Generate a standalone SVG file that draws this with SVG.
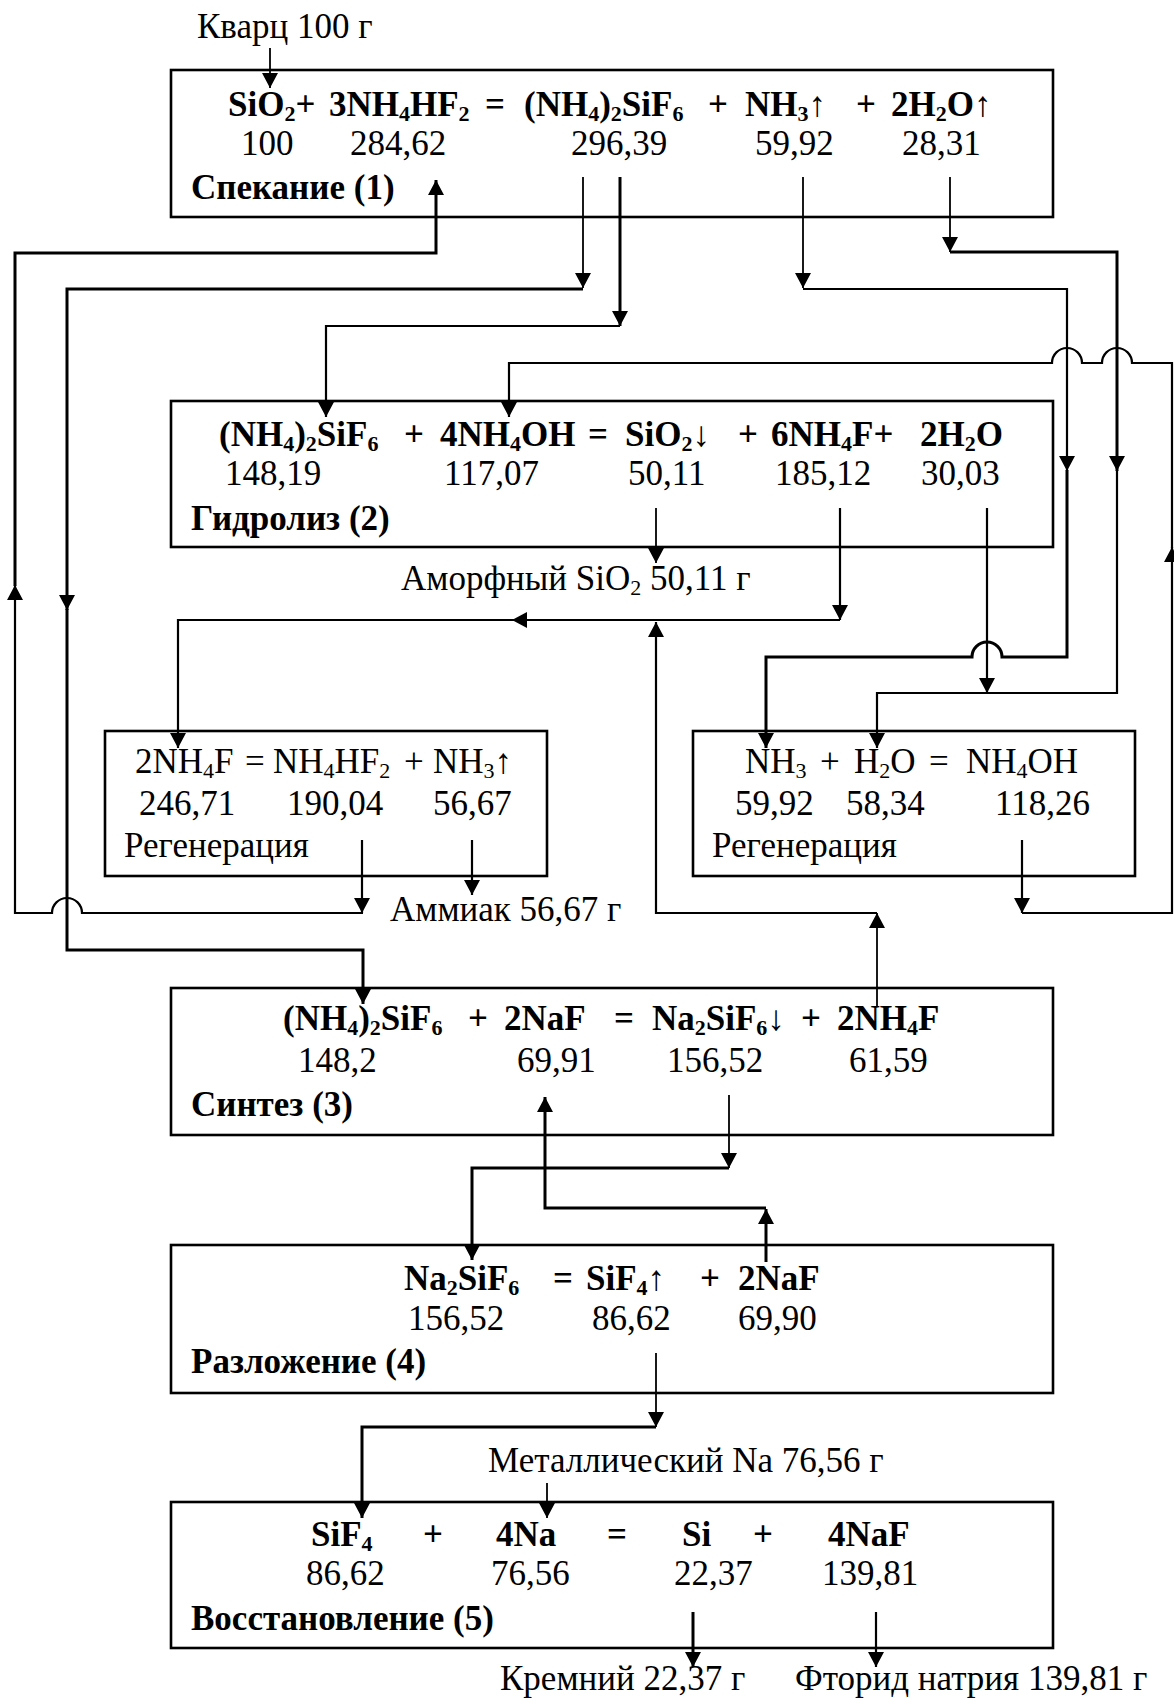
<svg xmlns="http://www.w3.org/2000/svg" width="1174" height="1698" viewBox="0 0 1174 1698">
<style>
.box{fill:none;stroke:#000;stroke-width:2.6}
.c{fill:none;stroke:#000;stroke-width:2.2}
.k{fill:none;stroke:#000;stroke-width:3}
.t{fill:none;stroke:#000;stroke-width:1.8}
text{font-family:"Liberation Serif","Times New Roman",serif;font-size:35px;fill:#000}
.b{font-weight:bold}
.s{font-size:22px}
.n{font-weight:normal}
</style>
<defs>
<marker id="a" markerUnits="userSpaceOnUse" markerWidth="16" markerHeight="16" refX="15" refY="8" orient="auto" viewBox="0 0 16 16"><path d="M0,0 L15,8 L0,16 z" fill="#000"/></marker>
</defs>
<rect width="1174" height="1698" fill="#fff"/>

<g id="connectors">
<path class="t" d="M270,48 V88" marker-end="url(#a)"/>
<path class="c" d="M362,840 V913" marker-end="url(#a)"/>
<path class="c" d="M363,913 H82 A15,15 0 0 0 52,913 H15 V585" marker-end="url(#a)"/>
<path class="k" d="M15,586 V253 H436 V180" marker-end="url(#a)"/>
<path class="c" d="M472,840 V895" marker-end="url(#a)"/>
<path class="t" d="M583,177 V288" marker-end="url(#a)"/>
<path class="k" d="M583,289 H67 V610" marker-end="url(#a)"/>
<path class="k" d="M67,609 V950 H363 V1004" marker-end="url(#a)"/>
<path class="k" d="M620,177 V326" marker-end="url(#a)"/>
<path class="c" d="M620,326 H326 V417" marker-end="url(#a)"/>
<path class="t" d="M803,177 V288" marker-end="url(#a)"/>
<path class="c" d="M803,289 H1067 V471" marker-end="url(#a)"/>
<path class="k" d="M1067,470 V657 H1002 A15,15 0 0 0 972,657 H766 V748" marker-end="url(#a)"/>
<path class="t" d="M950,177 V252" marker-end="url(#a)"/>
<path class="k" d="M950,252 H1117 V471" marker-end="url(#a)"/>
<path class="c" d="M1117,470 V693 H877 V748" marker-end="url(#a)"/>
<path class="c" d="M987,508 V693" marker-end="url(#a)"/>
<path class="c" d="M1022,840 V913" marker-end="url(#a)"/>
<path class="c" d="M1022,913 H1172 V547" marker-end="url(#a)"/>
<path class="c" d="M1172,548 V363 H1132 A15,15 0 0 0 1102,363 H1082 A15,15 0 0 0 1052,363 H509 V417" marker-end="url(#a)"/>
<path class="t" d="M656,508 V563" marker-end="url(#a)"/>
<path class="c" d="M840,508 V620" marker-end="url(#a)"/>
<path class="c" d="M840,620 H512" marker-end="url(#a)"/>
<path class="c" d="M514,620 H178 V748" marker-end="url(#a)"/>
<path class="t" d="M877,1007 V913" marker-end="url(#a)"/>
<path class="c" d="M877,913 H656 V622" marker-end="url(#a)"/>
<path class="t" d="M729,1095 V1168" marker-end="url(#a)"/>
<path class="k" d="M729,1168 H472 V1260" marker-end="url(#a)"/>
<path class="k" d="M766,1262 V1209" marker-end="url(#a)"/>
<path class="k" d="M766,1208 H545 V1097" marker-end="url(#a)"/>
<path class="t" d="M656,1353 V1427" marker-end="url(#a)"/>
<path class="k" d="M656,1427 H362 V1518" marker-end="url(#a)"/>
<path class="t" d="M547,1483 V1518" marker-end="url(#a)"/>
<path class="k" d="M693,1612 V1667" marker-end="url(#a)"/>
<path class="c" d="M876,1612 V1667" marker-end="url(#a)"/>
</g>

<g id="labels">
<text x="197" y="38">Кварц 100 г</text>
<text x="401" y="590">Аморфный SiO<tspan class="s" dy="5">2</tspan><tspan dy="-5"> 50,11 г</tspan></text>
<text x="390" y="921">Аммиак 56,67 г</text>
<text x="488" y="1472">Металлический Na 76,56 г</text>
<text x="500" y="1690">Кремний 22,37 г</text>
<text x="795" y="1690">Фторид натрия 139,81 г</text>
</g>

<g id="sintering">
<rect class="box" x="171" y="70" width="882" height="147"/>
<text class="b" x="228" y="116">SiO<tspan class="s" dy="5">2</tspan><tspan dy="-5">+</tspan></text>
<text class="b" x="329" y="116">3NH<tspan class="s" dy="5">4</tspan><tspan dy="-5">HF</tspan><tspan class="s" dy="5">2</tspan></text>
<text class="b" x="485" y="116">=</text>
<text class="b" x="524" y="116">(NH<tspan class="s" dy="5">4</tspan><tspan dy="-5">)</tspan><tspan class="s" dy="5">2</tspan><tspan dy="-5">SiF</tspan><tspan class="s" dy="5">6</tspan></text>
<text class="b" x="708" y="116">+</text>
<text class="b" x="745" y="116">NH<tspan class="s" dy="5">3</tspan><tspan class="n" dy="-5">↑</tspan></text>
<text class="b" x="856" y="116">+</text>
<text class="b" x="891" y="116">2H<tspan class="s" dy="5">2</tspan><tspan dy="-5">O</tspan><tspan class="n">↑</tspan></text>
<text x="241" y="155">100</text>
<text x="350" y="155">284,62</text>
<text x="571" y="155">296,39</text>
<text x="755" y="155">59,92</text>
<text x="902" y="155">28,31</text>
<text class="b" x="191" y="199">Спекание (1)</text>
</g>

<g id="hydrolysis">
<rect class="box" x="171" y="401" width="882" height="146"/>
<text class="b" x="219" y="446">(NH<tspan class="s" dy="5">4</tspan><tspan dy="-5">)</tspan><tspan class="s" dy="5">2</tspan><tspan dy="-5">SiF</tspan><tspan class="s" dy="5">6</tspan></text>
<text class="b" x="404" y="446">+</text>
<text class="b" x="440" y="446">4NH<tspan class="s" dy="5">4</tspan><tspan dy="-5">OH</tspan></text>
<text class="b" x="588" y="446">=</text>
<text class="b" x="625" y="446">SiO<tspan class="s" dy="5">2</tspan><tspan class="n" dy="-5">↓</tspan></text>
<text class="b" x="738" y="446">+</text>
<text class="b" x="771" y="446">6NH<tspan class="s" dy="5">4</tspan><tspan dy="-5">F+</tspan></text>
<text class="b" x="920" y="446">2H<tspan class="s" dy="5">2</tspan><tspan dy="-5">O</tspan></text>
<text x="225" y="485">148,19</text>
<text x="444" y="485">117,07</text>
<text x="628" y="485">50,11</text>
<text x="775" y="485">185,12</text>
<text x="921" y="485">30,03</text>
<text class="b" x="191" y="530">Гидролиз (2)</text>
</g>

<g id="regen-left">
<rect class="box" x="105" y="731" width="442" height="145"/>
<text x="135" y="773">2NH<tspan class="s" dy="5">4</tspan><tspan dy="-5">F</tspan></text>
<text x="245" y="773">=</text>
<text x="273" y="773">NH<tspan class="s" dy="5">4</tspan><tspan dy="-5">HF</tspan><tspan class="s" dy="5">2</tspan></text>
<text x="404" y="773">+</text>
<text x="433" y="773">NH<tspan class="s" dy="5">3</tspan><tspan dy="-5">↑</tspan></text>
<text x="139" y="815">246,71</text>
<text x="287" y="815">190,04</text>
<text x="433" y="815">56,67</text>
<text x="124" y="857">Регенерация</text>
</g>

<g id="regen-right">
<rect class="box" x="693" y="731" width="442" height="145"/>
<text x="745" y="773">NH<tspan class="s" dy="5">3</tspan></text>
<text x="820" y="773">+</text>
<text x="854" y="773">H<tspan class="s" dy="5">2</tspan><tspan dy="-5">O</tspan></text>
<text x="929" y="773">=</text>
<text x="966" y="773">NH<tspan class="s" dy="5">4</tspan><tspan dy="-5">OH</tspan></text>
<text x="735" y="815">59,92</text>
<text x="846" y="815">58,34</text>
<text x="995" y="815">118,26</text>
<text x="712" y="857">Регенерация</text>
</g>

<g id="synthesis">
<rect class="box" x="171" y="988" width="882" height="147"/>
<text class="b" x="283" y="1030">(NH<tspan class="s" dy="5">4</tspan><tspan dy="-5">)</tspan><tspan class="s" dy="5">2</tspan><tspan dy="-5">SiF</tspan><tspan class="s" dy="5">6</tspan></text>
<text class="b" x="468" y="1030">+</text>
<text class="b" x="504" y="1030">2NaF</text>
<text class="b" x="614" y="1030">=</text>
<text class="b" x="652" y="1030">Na<tspan class="s" dy="5">2</tspan><tspan dy="-5">SiF</tspan><tspan class="s" dy="5">6</tspan><tspan class="n" dy="-5">↓</tspan></text>
<text class="b" x="801" y="1030">+</text>
<text class="b" x="837" y="1030">2NH<tspan class="s" dy="5">4</tspan><tspan dy="-5">F</tspan></text>
<text x="298" y="1072">148,2</text>
<text x="517" y="1072">69,91</text>
<text x="667" y="1072">156,52</text>
<text x="849" y="1072">61,59</text>
<text class="b" x="191" y="1116">Синтез (3)</text>
</g>

<g id="decomposition">
<rect class="box" x="171" y="1245" width="882" height="148"/>
<text class="b" x="404" y="1290">Na<tspan class="s" dy="5">2</tspan><tspan dy="-5">SiF</tspan><tspan class="s" dy="5">6</tspan></text>
<text class="b" x="553" y="1290">=</text>
<text class="b" x="586" y="1290">SiF<tspan class="s" dy="5">4</tspan><tspan class="n" dy="-5">↑</tspan></text>
<text class="b" x="700" y="1290">+</text>
<text class="b" x="738" y="1290">2NaF</text>
<text x="408" y="1330">156,52</text>
<text x="592" y="1330">86,62</text>
<text x="738" y="1330">69,90</text>
<text class="b" x="191" y="1373">Разложение (4)</text>
</g>

<g id="reduction">
<rect class="box" x="171" y="1502" width="882" height="146"/>
<text class="b" x="311" y="1546">SiF<tspan class="s" dy="5">4</tspan></text>
<text class="b" x="423" y="1546">+</text>
<text class="b" x="496" y="1546">4Na</text>
<text class="b" x="607" y="1546">=</text>
<text class="b" x="682" y="1546">Si</text>
<text class="b" x="753" y="1546">+</text>
<text class="b" x="828" y="1546">4NaF</text>
<text x="306" y="1585">86,62</text>
<text x="491" y="1585">76,56</text>
<text x="674" y="1585">22,37</text>
<text x="822" y="1585">139,81</text>
<text class="b" x="191" y="1630">Восстановление (5)</text>
</g>
</svg>
